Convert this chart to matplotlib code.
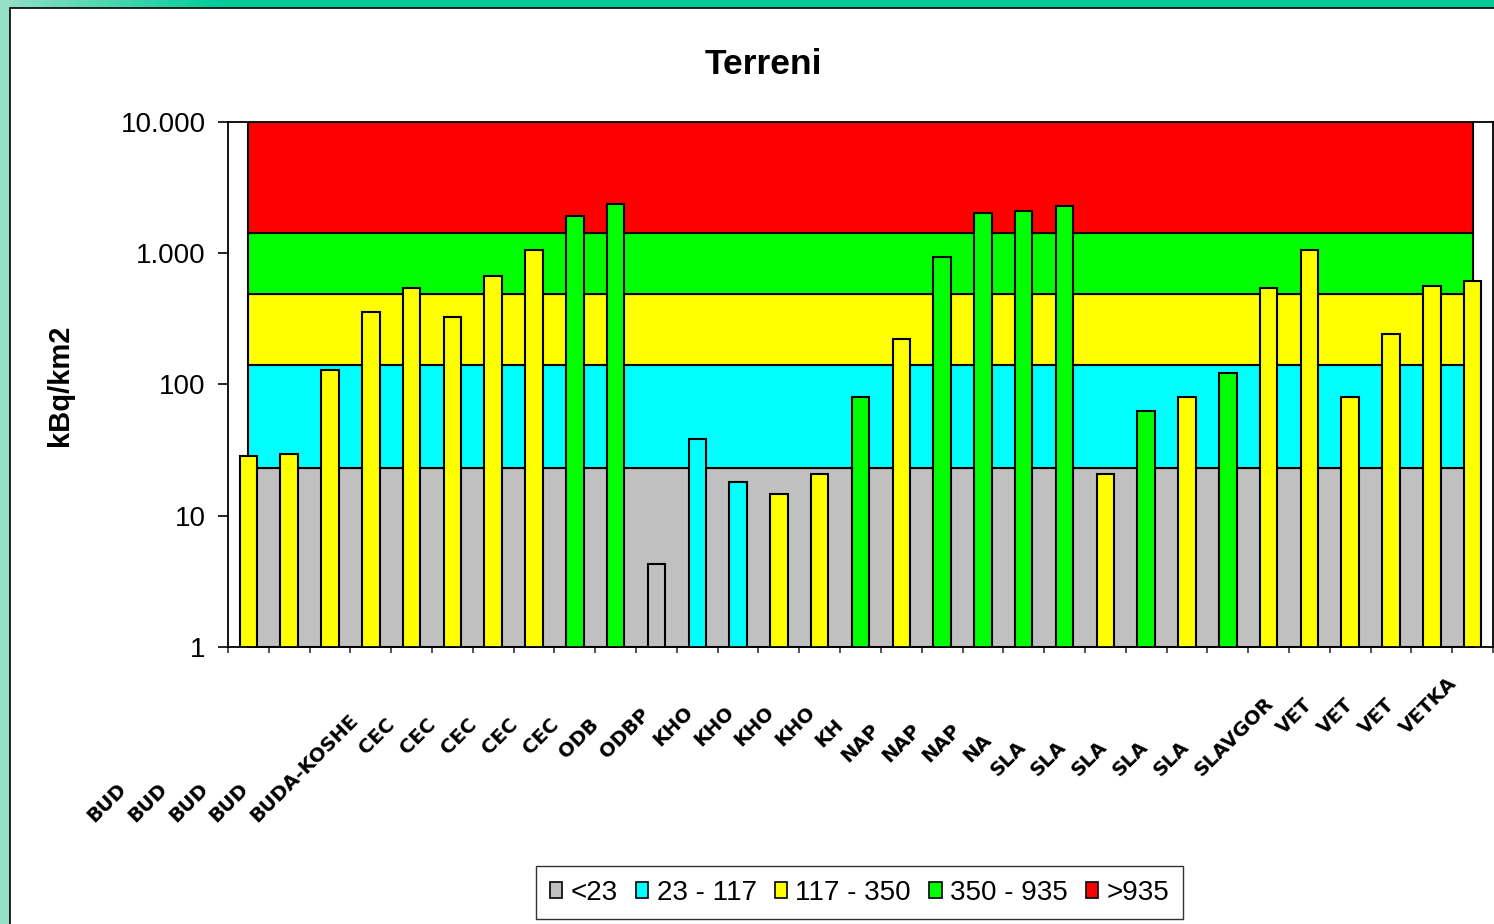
import numpy as np
import matplotlib
matplotlib.use('Agg')
import matplotlib.pyplot as plt
from matplotlib.patches import Patch, Rectangle
from matplotlib.colors import LinearSegmentedColormap
from matplotlib.ticker import FixedLocator, FuncFormatter, NullLocator

# category labels as they appear (truncated) under the axis
labels = ['BUD', 'BUD', 'BUD', 'BUD', 'BUDA-KOSHE', 'CEC', 'CEC', 'CEC', 'CEC', 'CEC',
          'ODB', 'ODBP', 'KHO', 'KHO', 'KHO', 'KHO', 'KH', 'NAP', 'NAP', 'NAP', 'NA',
          'SLA', 'SLA', 'SLA', 'SLA', 'SLA', 'SLAVGOR', 'VET', 'VET', 'VET', 'VETKA']

# kBq/km2 per sample
values = [28.2, 29.7, 129, 356, 541, 326, 668, 1052, 1905, 2350,
          4.27, 38, 17.9, 14.5, 20.9, 80.5, 222, 931, 2010, 2080, 2270,
          20.9, 63, 80.5, 122, 541, 1052, 80.5, 242, 561, 612]

# colour class of each bar (index into class lists)
bar_class = [2, 2, 2, 2, 2, 2, 2, 2, 3, 3,
             0, 1, 1, 2, 2, 3, 2, 3, 3, 3, 3,
             2, 3, 2, 3, 2, 2, 2, 2, 2, 2]

class_names = ['<23', '23 - 117', '117 - 350', '350 - 935', '>935']
class_colors = ['#C0C0C0', '#00FFFF', '#FFFF00', '#00FF00', '#FF0000']

# background bands are stacked: 23, +117, +350, +935, rest up to the top
band_sizes = [23, 117, 350, 935]
band_top = 10000

# how far each (clipped) label starts before its tick, in pixels
label_shift = [158, 158, 158, 158, 158, 90, 90, 90, 90, 90,
               94, 94, 82, 82, 82, 82, 83, 98, 98, 98, 98,
               112, 112, 112, 112, 112, 112, 70, 70, 70, 70]

W, H = 1494, 924
fig = plt.figure(figsize=(W / 100, H / 100), dpi=100)
fig.patch.set_facecolor('#00CC99')

# light strip on the left, gradient along the top
fig.patches.append(Rectangle((0, 0), 10 / W, 1, transform=fig.transFigure,
                             facecolor='#96E0C8', edgecolor='none', zorder=-3))
gax = fig.add_axes([0, 1 - 8 / H, 220 / W, 8 / H], zorder=-3)
cmap = LinearSegmentedColormap.from_list('edge', ['#96E0C8', '#00CC99'])
gax.imshow(np.linspace(0, 1, 256).reshape(1, -1), cmap=cmap, aspect='auto')
gax.axis('off')

# white chart area
fig.patches.append(Rectangle((10 / W, -0.1), 1.2, 1 - 8 / H + 0.1, transform=fig.transFigure,
                             facecolor='white', edgecolor='black', lw=1.2, zorder=-2))

ax = fig.add_axes([228 / W, 1 - 647 / H, (1493 - 228) / W, (647 - 121.5) / H])
ax.set_facecolor('white')
ax.set_yscale('log')

x = np.arange(len(values))

# stacked reference bands
lows = [1] + list(np.cumsum(band_sizes))
highs = list(np.cumsum(band_sizes)) + [band_top]
for lo, hi, c in zip(lows, highs, class_colors):
    ax.fill_between([x[0], x[-1]], lo, hi, facecolor=c, edgecolor='black', lw=1.5, zorder=1)

ax.bar(x, values, width=0.43, bottom=0,
       color=[class_colors[k] for k in bar_class],
       edgecolor='black', lw=1.5, zorder=2)

ax.set_xlim(-0.5, len(values) - 0.5)
ax.set_ylim(1, 10000)

ax.yaxis.set_major_locator(FixedLocator([1, 10, 100, 1000, 10000]))
ax.yaxis.set_minor_locator(NullLocator())
ax.yaxis.set_major_formatter(FuncFormatter(lambda v, p: f'{int(round(v)):,}'.replace(',', '.')))
ax.tick_params(axis='y', length=7, width=1.2, pad=9, labelsize=20, labelfontfamily='Liberation Sans')

ax.set_xticks(np.arange(-0.5, len(values), 1.0))
ax.set_xticklabels([])
ax.tick_params(axis='x', length=4, width=1.2, color='#333333')

for s in ax.spines.values():
    s.set_color('black')
    s.set_linewidth(1.3)
    s.set_zorder(3)

for i, (lab, sh) in enumerate(zip(labels, label_shift)):
    ax.annotate(lab, xy=(i, 1), xycoords='data', xytext=(-sh, -(14 + sh)),
                textcoords='offset pixels', rotation=45, rotation_mode='anchor',
                ha='left', va='center', fontsize=14, fontweight='bold',
                family='DejaVu Sans', annotation_clip=False)

fig.text(763 / W, 1 - 64 / H, 'Terreni', ha='center', va='center',
         fontsize=25.5, fontweight='bold', family='Liberation Sans')
fig.text(60 / W, 1 - 385 / H, 'kBq/km2', ha='center', va='center', rotation=90,
         fontsize=21, fontweight='bold', family='Liberation Sans')

handles = [Patch(facecolor=c, edgecolor='black', lw=1.2) for c in class_colors]
leg = fig.legend(handles, class_names, loc='center', bbox_to_anchor=(859.5 / W, 1 - 892.5 / H),
                 ncol=5, frameon=True, fancybox=False, edgecolor='black',
                 prop={'family': 'Liberation Sans', 'size': 20},
                 handlelength=0.45, handleheight=0.5, handletextpad=0.3,
                 columnspacing=0.65, borderpad=0.5)
leg.get_frame().set_linewidth(1.0)

fig.savefig('out.png', dpi=100)
